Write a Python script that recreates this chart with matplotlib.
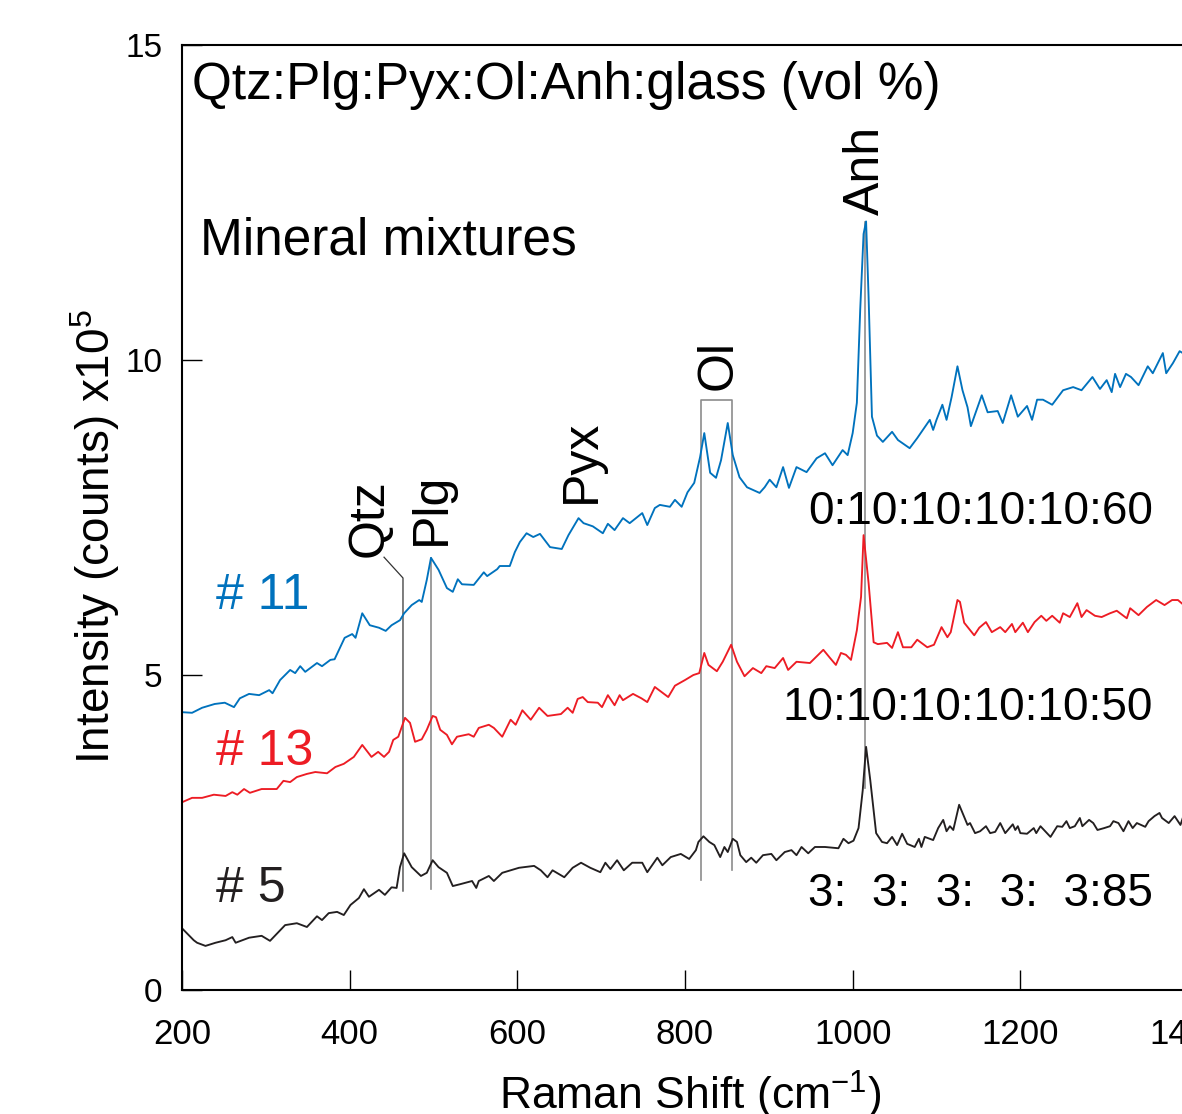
import matplotlib
matplotlib.use("Agg")
import matplotlib.pyplot as plt

plt.rcParams['font.family'] = ['Liberation Sans', 'DejaVu Sans']
plt.rcParams['mathtext.fontset'] = 'custom'
plt.rcParams['mathtext.rm'] = 'Liberation Sans'
plt.rcParams['mathtext.it'] = 'Liberation Sans'

# ---------------- data ----------------
x11 = [200, 212, 224, 239, 251, 262, 269, 280, 292, 304, 308, 317, 329, 335, 341, 347, 361, 367, 377, 382,
       394, 403, 407, 415, 424, 435, 443, 450, 460, 465, 474, 483, 486, 492, 497, 506, 516, 523, 529, 534,
       548, 560, 564, 576, 579, 591, 597, 603, 611, 619, 627, 639, 653, 661, 673, 679, 690, 702, 708, 716,
       726, 734, 749, 755, 764, 770, 782, 788, 796, 803, 811, 818, 823, 830, 837, 843, 851, 857, 865, 874,
       889, 895, 901, 909, 917, 924, 933, 945, 957, 967, 976, 988, 994, 1000, 1005, 1009, 1013, 1016, 1019, 1023,
       1029, 1036, 1047, 1054, 1068, 1077, 1092, 1096, 1100, 1107, 1112, 1118, 1125, 1131, 1137, 1141, 1154, 1161, 1173, 1179,
       1189, 1197, 1208, 1214, 1220, 1227, 1238, 1251, 1263, 1273, 1286, 1295, 1303, 1309, 1313, 1319, 1326, 1332, 1341, 1352,
       1358, 1370, 1374, 1382, 1390, 1395]
y11 = [4.41, 4.40, 4.48, 4.54, 4.56, 4.49, 4.63, 4.70, 4.68, 4.76, 4.71, 4.92, 5.08, 5.03, 5.14, 5.05, 5.19, 5.14, 5.24, 5.25,
       5.59, 5.65, 5.59, 5.98, 5.79, 5.75, 5.70, 5.79, 5.87, 5.98, 6.11, 6.19, 6.16, 6.51, 6.86, 6.67, 6.38, 6.32, 6.52, 6.44,
       6.43, 6.63, 6.57, 6.68, 6.73, 6.73, 6.95, 7.11, 7.25, 7.19, 7.24, 7.03, 7.00, 7.22, 7.49, 7.41, 7.36, 7.25, 7.40, 7.30,
       7.49, 7.41, 7.57, 7.38, 7.65, 7.70, 7.67, 7.78, 7.67, 7.90, 8.05, 8.46, 8.84, 8.21, 8.13, 8.41, 9.00, 8.49, 8.14, 7.98,
       7.89, 7.98, 8.10, 7.98, 8.30, 7.97, 8.30, 8.22, 8.44, 8.52, 8.33, 8.57, 8.49, 8.84, 9.32, 10.8, 12.0, 12.2, 11.0, 9.10,
       8.80, 8.70, 8.86, 8.73, 8.60, 8.76, 9.05, 8.89, 9.05, 9.29, 9.05, 9.41, 9.90, 9.52, 9.25, 8.95, 9.44, 9.17, 9.19, 9.00,
       9.44, 9.10, 9.27, 9.05, 9.37, 9.37, 9.29, 9.52, 9.57, 9.52, 9.73, 9.54, 9.68, 9.49, 9.78, 9.57, 9.78, 9.73, 9.60, 9.90,
       9.79, 10.11, 9.79, 9.95, 10.14, 10.10]

x13 = [200, 212, 224, 238, 252, 260, 266, 274, 281, 295, 313, 321, 329, 337, 349, 359, 373, 383, 393, 405,
       415, 426, 434, 441, 447, 452, 458, 466, 472, 478, 486, 492, 499, 503, 508, 516, 522, 528, 542, 548,
       554, 566, 572, 582, 592, 598, 606, 616, 626, 636, 652, 660, 666, 672, 678, 684, 696, 701, 708, 716,
       722, 726, 738, 748, 755, 764, 772, 780, 788, 800, 810, 817, 823, 828, 838, 845, 855, 862, 871, 881,
       891, 897, 907, 917, 923, 933, 949, 965, 973, 980, 986, 992, 998, 1005, 1010, 1013, 1019, 1025, 1030, 1041,
       1047, 1054, 1060, 1070, 1077, 1089, 1097, 1106, 1113, 1117, 1125, 1128, 1133, 1145, 1151, 1159, 1166, 1176, 1182, 1190,
       1194, 1203, 1209, 1217, 1225, 1231, 1238, 1247, 1251, 1259, 1268, 1273, 1279, 1289, 1297, 1307, 1315, 1327, 1331, 1341,
       1351, 1362, 1372, 1381, 1388, 1395]
y13 = [2.98, 3.05, 3.05, 3.10, 3.08, 3.14, 3.10, 3.19, 3.13, 3.19, 3.19, 3.32, 3.30, 3.38, 3.43, 3.46, 3.44, 3.54, 3.59, 3.70,
       3.89, 3.70, 3.78, 3.70, 3.78, 3.97, 4.02, 4.32, 4.24, 3.94, 3.98, 4.13, 4.35, 4.33, 4.13, 4.05, 3.90, 4.02, 4.06, 4.02,
       4.16, 4.21, 4.16, 4.02, 4.29, 4.21, 4.44, 4.29, 4.48, 4.35, 4.38, 4.48, 4.40, 4.62, 4.65, 4.57, 4.56, 4.49, 4.68, 4.52,
       4.68, 4.60, 4.70, 4.63, 4.57, 4.81, 4.73, 4.65, 4.83, 4.92, 5.00, 5.03, 5.35, 5.16, 5.06, 5.21, 5.48, 5.21, 4.98, 5.11,
       5.03, 5.14, 5.11, 5.27, 5.08, 5.21, 5.19, 5.40, 5.27, 5.16, 5.35, 5.32, 5.24, 5.71, 6.24, 7.22, 6.46, 5.52, 5.49, 5.51,
       5.43, 5.68, 5.44, 5.44, 5.56, 5.44, 5.48, 5.76, 5.60, 5.68, 6.19, 6.16, 5.83, 5.63, 5.75, 5.84, 5.68, 5.76, 5.68, 5.81,
       5.68, 5.83, 5.68, 5.84, 5.94, 5.86, 5.94, 5.83, 5.98, 5.92, 6.14, 5.92, 6.03, 5.94, 5.92, 5.98, 6.02, 5.90, 6.06, 5.95,
       6.08, 6.19, 6.11, 6.19, 6.19, 6.11]

x5 = [200, 214, 218, 228, 240, 252, 260, 264, 280, 295, 305, 315, 323, 337, 349, 361, 367, 375, 385, 393,
      401, 411, 417, 423, 435, 442, 450, 456, 460, 465, 474, 485, 492, 499, 506, 516, 523, 532, 546, 551,
      554, 566, 572, 582, 592, 602, 620, 628, 636, 642, 656, 666, 676, 687, 699, 705, 711, 719, 727, 737,
      749, 755, 767, 773, 783, 795, 805, 813, 816, 822, 829, 835, 842, 847, 851, 857, 862, 866, 873, 879,
      885, 893, 903, 909, 919, 927, 933, 939, 947, 955, 967, 983, 989, 995, 1001, 1007, 1012, 1016, 1021, 1028,
      1035, 1041, 1047, 1053, 1059, 1065, 1074, 1079, 1082, 1086, 1096, 1102, 1108, 1112, 1116, 1120, 1127, 1132, 1137, 1140,
      1146, 1152, 1159, 1164, 1170, 1176, 1182, 1191, 1194, 1197, 1200, 1208, 1216, 1219, 1224, 1236, 1244, 1250, 1255, 1259,
      1265, 1271, 1274, 1282, 1287, 1292, 1300, 1307, 1311, 1317, 1323, 1329, 1334, 1339, 1349, 1353, 1360, 1366, 1369, 1377,
      1384, 1391, 1395]
y5 = [0.98, 0.79, 0.75, 0.70, 0.75, 0.79, 0.84, 0.75, 0.83, 0.86, 0.78, 0.92, 1.03, 1.06, 1.00, 1.17, 1.11, 1.22, 1.24, 1.19,
      1.35, 1.46, 1.60, 1.48, 1.59, 1.51, 1.63, 1.62, 1.95, 2.17, 1.95, 1.81, 1.86, 2.06, 1.95, 1.86, 1.65, 1.68, 1.73, 1.62,
      1.73, 1.81, 1.73, 1.86, 1.90, 1.94, 1.97, 1.90, 1.79, 1.90, 1.79, 1.94, 2.02, 1.94, 1.87, 2.02, 1.92, 2.06, 1.90, 2.02,
      2.02, 1.87, 2.10, 1.98, 2.11, 2.16, 2.08, 2.22, 2.35, 2.44, 2.35, 2.30, 2.11, 2.27, 2.19, 2.40, 2.35, 2.14, 2.03, 2.10,
      2.02, 2.14, 2.16, 2.06, 2.19, 2.22, 2.14, 2.27, 2.17, 2.27, 2.27, 2.25, 2.40, 2.33, 2.37, 2.57, 3.17, 3.86, 3.33, 2.49,
      2.35, 2.33, 2.43, 2.30, 2.48, 2.32, 2.27, 2.40, 2.27, 2.43, 2.38, 2.57, 2.70, 2.52, 2.60, 2.54, 2.94, 2.78, 2.62, 2.65,
      2.49, 2.52, 2.60, 2.49, 2.51, 2.65, 2.49, 2.63, 2.54, 2.60, 2.49, 2.48, 2.57, 2.49, 2.60, 2.43, 2.60, 2.59, 2.68, 2.57,
      2.60, 2.73, 2.60, 2.70, 2.65, 2.54, 2.57, 2.60, 2.68, 2.65, 2.52, 2.68, 2.57, 2.65, 2.59, 2.68, 2.76, 2.81, 2.73, 2.65,
      2.76, 2.62, 2.78]

series_names = ['# 11', '# 13', '# 5']
ratios = ['0:10:10:10:10:60', '10:10:10:10:10:50', '3:  3:  3:  3:  3:85']
peak_names = ['Qtz', 'Plg', 'Pyx', 'Ol', 'Anh']
xticks = [200, 400, 600, 800, 1000, 1200, 1400]
yticks = [0, 5, 10, 15]

# ---------------- figure ----------------
W, H = 1182, 1114
fig = plt.figure(figsize=(W / 100, H / 100), dpi=100)
ax = fig.add_axes([182 / W, 124 / H, (1188 - 182) / W, 945 / H])
ax.set_xlim(200, 1400)
ax.set_ylim(0, 15)

c_blue, c_red, c_black = '#0072BD', '#ED1C24', '#231F20'
c_gray = '#8C8C8C'

# marker lines
ax.plot([441, 463.6, 463.6], [6.87, 6.54, 1.57], color='#333333', lw=0.9, zorder=1)
ax.plot([496.6, 496.6], [6.86, 1.60], color=c_gray, lw=1.2, zorder=1)
ax.plot([819, 819, 856, 856], [1.75, 9.37, 9.37, 1.90], color=c_gray, lw=1.2, zorder=1)
ax.plot([1015, 1015], [12.19, 3.21], color=c_gray, lw=1.2, zorder=1)

ax.plot(x11, y11, color=c_blue, lw=1.35, zorder=2)
ax.plot(x13, y13, color=c_red, lw=1.35, zorder=2)
ax.plot(x5, y5, color=c_black, lw=1.35, zorder=2)

# spines / ticks
for s in ax.spines.values():
    s.set_linewidth(1.5)
ax.set_xticks(xticks)
ax.set_yticks(yticks)
ax.tick_params(axis='both', direction='in', length=14.5, width=1.0)
ax.tick_params(axis='x', labelsize=25, pad=20)
ax.tick_params(axis='y', labelsize=24, pad=14)

# texts
ax.text(212, 14.14, 'Qtz:Plg:Pyx:Ol:Anh:glass (vol %)', fontsize=37, va='baseline', ha='left')
ax.text(221.5, 11.67, 'Mineral mixtures', fontsize=37, va='baseline', ha='left')
for name, yb, col in zip(series_names, [6.05, 3.57, 1.40], [c_blue, c_red, c_black]):
    ax.text(240.5, yb, name, fontsize=36, color=col, va='baseline', ha='left')
for r, yb in zip(ratios, [7.40, 4.29, 1.33]):
    ax.text(1358, yb, r, fontsize=33, va='baseline', ha='right')
for name, xp, yb in zip(peak_names, [424.2, 498.2, 677, 840.4, 1015.7], [6.87, 7.06, 7.73, 9.52, 12.30]):
    ax.text(xp, yb, name, fontsize=36, rotation=90, ha='center', va='bottom')

fig.text(690 / W, 4 / H, 'Raman Shift (cm$^{\\mathregular{-}1}$)', fontsize=32, ha='center', va='baseline')
fig.text(95 / W, 1 - 537 / H, 'Intensity (counts) x10$^5$', fontsize=33, rotation=90,
         ha='center', va='center')

fig.savefig('out.png', dpi=100)
